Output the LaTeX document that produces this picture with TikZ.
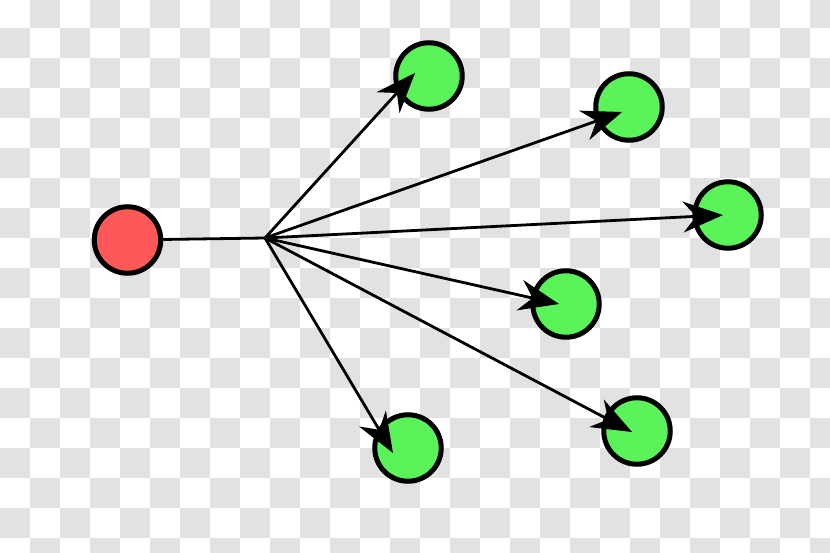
\documentclass[tikz,border=0pt]{standalone}
\usepackage{tikz}
\usetikzlibrary{arrows.meta}
\definecolor{srcred}{RGB}{255,88,88}
\definecolor{dstgreen}{RGB}{90,244,90}
\definecolor{checker}{RGB}{226,226,226}

\begin{document}
\begin{tikzpicture}
[x=1pt, y=-1pt,
> = {Stealth[length=40pt, width=31pt, inset=13pt]},
vertex/.style ={circle, draw=black, line width=5pt,
minimum size=66.5pt, inner sep=0pt},
src/.style ={vertex, fill=srcred},
dst/.style ={vertex, fill=dstgreen},
edge/.style ={line width=2.8pt, black},
]
\useasboundingbox (0,0) rectangle (830,553);

% background squares
\begin{scope}
\clip (0,0) rectangle (830,553);
\foreach \i in {0,...,27}
  \foreach \j in {0,...,18}{
    \pgfmathtruncatemacro\sqsum{\i+\j}
    \ifodd\sqsum
      \fill[checker] (30*\i,30*\j-2) rectangle ++(30,30);
    \fi
  }
\end{scope}

% source
\node [src] (s) at (127.5,240) {};

% targets
\node [dst] (d1) at (429,76) {};
\node [dst] (d2) at (629,107) {};
\node [dst] (d3) at (728,215) {};
\node [dst] (d4) at (566,304) {};
\node [dst] (d5) at (408,448) {};
\node [dst] (d6) at (637,431) {};

% fan point and arrow ends
\coordinate (hub) at (265,238);
\coordinate (t1) at (415,73);
\coordinate (t2) at (622,112);
\coordinate (t3) at (723,215);
\coordinate (t4) at (559,304);
\coordinate (t5) at (393,453);
\coordinate (t6) at (632,432);

 \draw[edge] (s) -- (hub);
 \draw[edge, ->] (hub) -- (t1);
 \draw[edge, ->] (hub) -- (t2);
 \draw[edge, ->] (hub) -- (t3);
 \draw[edge, ->] (hub) -- (t4);
 \draw[edge, ->] (hub) -- (t5);
 \draw[edge, ->] (hub) -- (t6);
\end{tikzpicture}
\end{document}
